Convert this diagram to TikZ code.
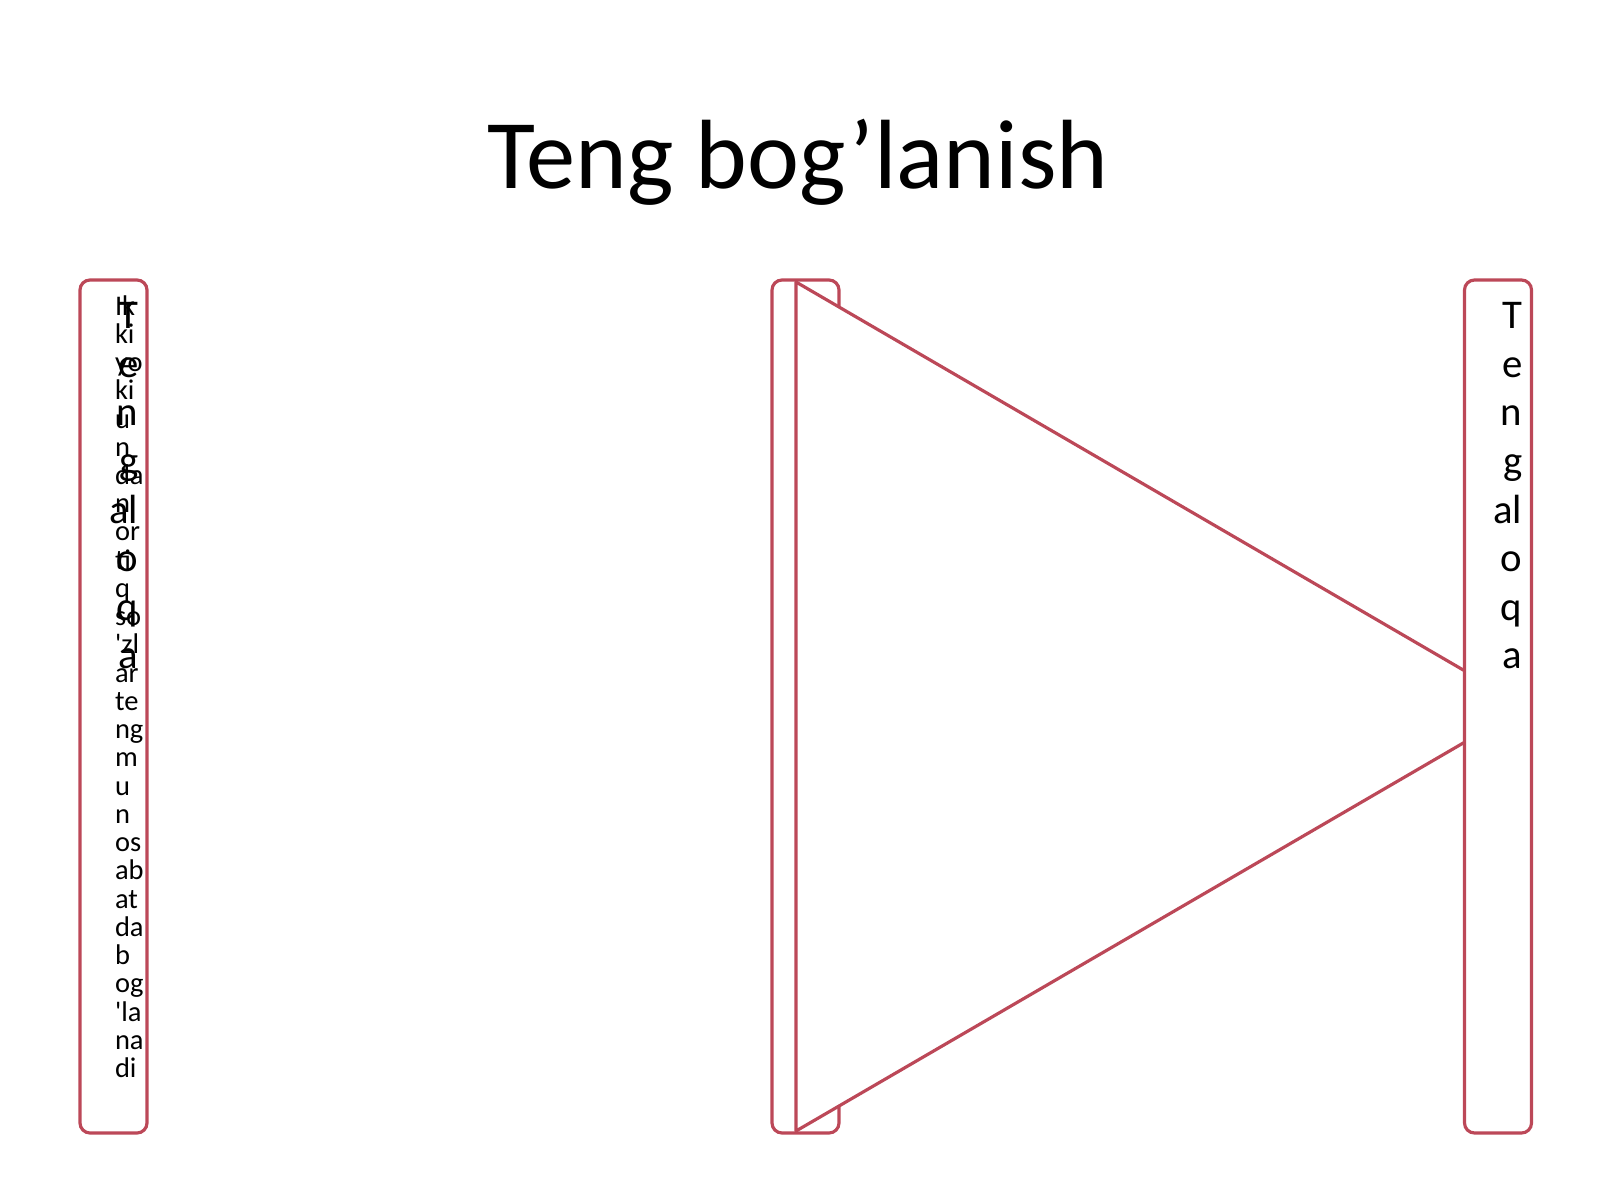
\documentclass[tikz,border=0pt]{standalone}
\usepackage{fontspec}
\setmainfont{Carlito}
\usepackage{tikz}
\usetikzlibrary{calc}
\definecolor{barred}{RGB}{188,72,88}
\tikzset{
  slotbox/.style={draw=barred, line width=0.9pt, fill=white, rounded corners=0.1cm,
    minimum width=0.67cm, minimum height=8.53cm, inner sep=0pt},
  bigtxt/.style={anchor=base east, inner sep=0pt, font=\fontsize{11.6pt}{13.9pt}\selectfont},
  smalltxt/.style={anchor=base west, inner sep=0pt, font=\fontsize{8.1pt}{8pt}\selectfont},
}
\newcommand{\slot}[3]{\node[slotbox] (#1) at ( #2 , #3 ) {};}
\newcommand{\lablbig}[4]{\node[bigtxt] (#1) at ( #2 , #3 ) {#4};}
\newcommand{\lablsmall}[4]{\node[smalltxt] (#1) at ( #2 , #3 ) {#4};}

\begin{document}
\begin{tikzpicture}
        \useasboundingbox (0,0) rectangle (16,12);
        \node[anchor=base, inner sep=0pt, font=\fontsize{28pt}{34pt}\selectfont] (title) at (7.98,10.11) {Teng bog’lanish};

        \slot{left}{1.135}{4.935}
        \slot{mid}{8.055}{4.935}

        % arrow
        \coordinate (tritop) at (7.96,9.18);
        \coordinate (tribot) at (7.96,0.69);
        \coordinate (triapex) at (15.26,4.935);
        \draw[barred, line width=0.9pt, fill=white, line join=round] (tritop) -- (triapex) -- (tribot) -- cycle;

        \slot{right}{14.98}{4.935}

        % left, big
        \lablbig{la1}{1.39}{8.714}{T}
        \lablbig{la2}{1.39}{8.228}{e}
        \lablbig{la3}{1.39}{7.742}{n}
        \lablbig{la4}{1.39}{7.256}{g}
        \lablbig{la5}{1.39}{6.770}{al}
        \lablbig{la6}{1.39}{6.284}{o}
        \lablbig{la7}{1.39}{5.798}{q}
        \lablbig{la8}{1.39}{5.312}{a}

        % left, small
        \lablsmall{ls1}{1.143}{8.850}{Ik}
        \lablsmall{ls2}{1.143}{8.568}{ki}
        \lablsmall{ls3}{1.143}{8.285}{yo}
        \lablsmall{ls4}{1.143}{8.003}{ki}
        \lablsmall{ls5}{1.143}{7.720}{u}
        \lablsmall{ls6}{1.143}{7.438}{n}
        \lablsmall{ls7}{1.143}{7.156}{da}
        \lablsmall{ls8}{1.143}{6.873}{n}
        \lablsmall{ls9}{1.143}{6.591}{or}
        \lablsmall{ls10}{1.143}{6.308}{ti}
        \lablsmall{ls11}{1.143}{6.026}{q}
        \lablsmall{ls12}{1.143}{5.743}{so}
        \lablsmall{ls13}{1.143}{5.461}{\textquotesingle zl}
        \lablsmall{ls14}{1.143}{5.179}{ar}
        \lablsmall{ls15}{1.143}{4.896}{te}
        \lablsmall{ls16}{1.143}{4.614}{ng}
        \lablsmall{ls17}{1.143}{4.331}{m}
        \lablsmall{ls18}{1.143}{4.049}{u}
        \lablsmall{ls19}{1.143}{3.767}{n}
        \lablsmall{ls20}{1.143}{3.484}{os}
        \lablsmall{ls21}{1.143}{3.202}{ab}
        \lablsmall{ls22}{1.143}{2.919}{at}
        \lablsmall{ls23}{1.143}{2.637}{da}
        \lablsmall{ls24}{1.143}{2.354}{b}
        \lablsmall{ls25}{1.143}{2.072}{og}
        \lablsmall{ls26}{1.143}{1.790}{\textquotesingle la}
        \lablsmall{ls27}{1.143}{1.507}{na}
        \lablsmall{ls28}{1.143}{1.225}{di}

        % right, big
        \lablbig{ra1}{15.23}{8.714}{T}
        \lablbig{ra2}{15.23}{8.228}{e}
        \lablbig{ra3}{15.23}{7.742}{n}
        \lablbig{ra4}{15.23}{7.256}{g}
        \lablbig{ra5}{15.23}{6.770}{al}
        \lablbig{ra6}{15.23}{6.284}{o}
        \lablbig{ra7}{15.23}{5.798}{q}
        \lablbig{ra8}{15.23}{5.312}{a}

    \end{tikzpicture}
\end{document}
